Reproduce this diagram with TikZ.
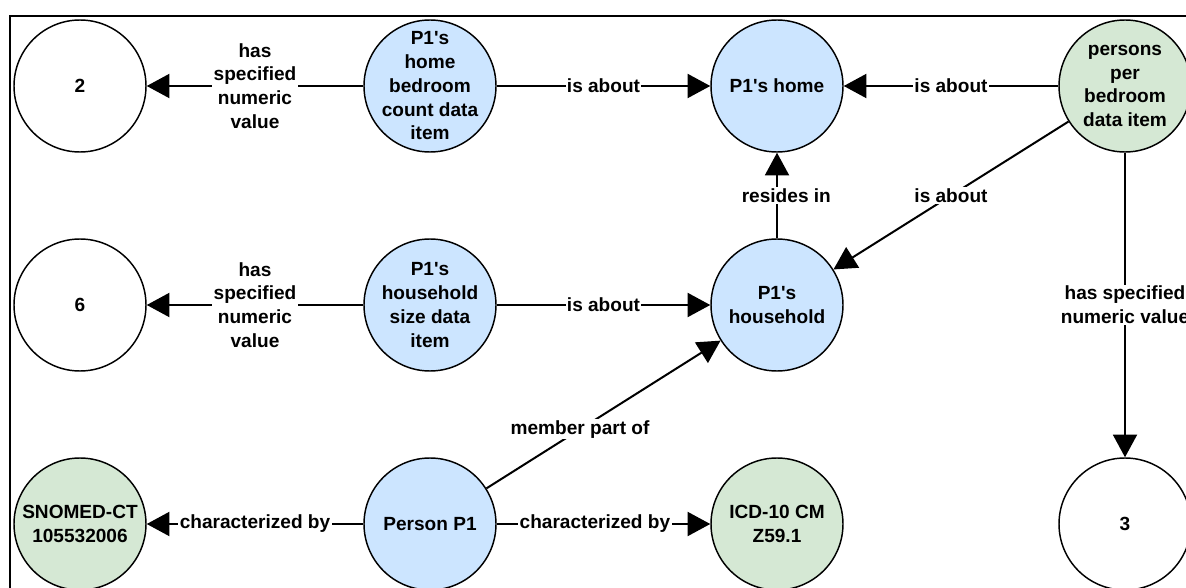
\documentclass[tikz,border=0pt]{standalone}
\usepackage{fontspec}
\setmainfont{Liberation Sans}[Ligatures=TeXOff]
\usetikzlibrary{arrows.meta}

\definecolor{itemblue}{HTML}{CCE5FF}
\definecolor{codegreen}{HTML}{D5E8D4}

\tikzset{
  ent/.style={circle, draw, line width=1.1pt, minimum size=99pt, inner sep=-30pt,
    align=center, font=\fontsize{14.3}{17.8}\selectfont\bfseries},
  blue/.style={ent, fill=itemblue},
  green/.style={ent, fill=codegreen},
  val/.style={ent, fill=white},
  rel/.style={line width=1.5pt, -{Triangle[length=17pt,width=18pt]}},
  lbl/.style={fill=white, inner sep=1pt, align=center,
    font=\fontsize{14.3}{17.8}\selectfont\bfseries}
}

\begin{document}
\begin{tikzpicture}[x=0.75pt,y=-0.75pt]
%\draw [help lines] (0,0) grid (1186,588);
\clip (0,0) rectangle (1186,588);

\draw [line width=1.5pt] (10,600) -- (10,16) -- (1200,16);

% top row
\node [val]   (two)      at (80,86)   {2};
\node [blue]  (bedcount) at (430,86)  {P1's\\home\\bedroom\\count data\\item};
\node [blue]  (home)     at (777,86)  {P1's home};
\node [green] (perbed)   at (1125,86) {persons\\per\\bedroom\\data item};

% middle row
\node [val]   (six)       at (80,305)  {6};
\node [blue]  (hhsize)    at (430,305) {P1's\\household\\size data\\item};
\node [blue]  (household) at (777,305) {P1's\\household};

% bottom row
\node [green] (snomed) at (80,524)   {SNOMED-CT\\105532006};
\node [blue]  (person) at (430,524)  {Person P1};
\node [green] (icd)    at (777,524)  {ICD-10 CM\\Z59.1};
\node [val]   (three)  at (1125,524) {3};

\draw [rel] (bedcount) -- node [lbl] {has\\specified\\numeric\\value} (two);
\draw [rel] (bedcount) -- node [lbl] {is about} (home);
\draw [rel] (perbed) -- node [lbl] {is about} (home);
\draw [rel] (perbed) -- node [lbl] {is about} (household);
\draw [rel] (perbed) -- node [lbl] {has specified\\numeric value} (three);
\draw [rel] (household) -- node [lbl, xshift=7pt] {resides in} (home);

\draw [rel] (hhsize) -- node [lbl] {has\\specified\\numeric\\value} (six);
\draw [rel] (hhsize) -- node [lbl] {is about} (household);

\draw [rel] (person) -- node [lbl, pos=0.4] {member part of} (household);
\draw [rel] (person) -- node [lbl] {characterized by} (snomed);
\draw [rel] (person) -- node [lbl, pos=0.46] {characterized by} (icd);

\end{tikzpicture}
\end{document}
